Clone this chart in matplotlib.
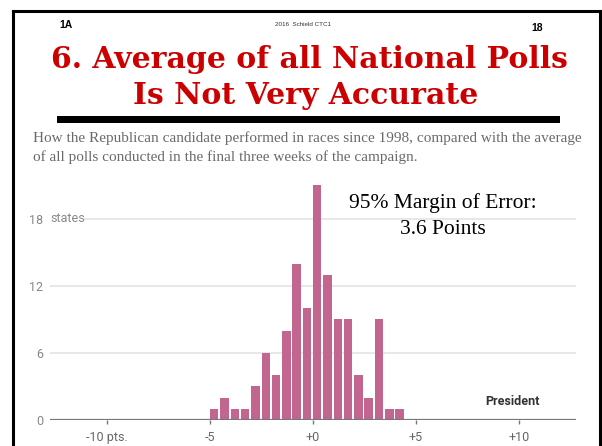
import matplotlib
matplotlib.use("Agg")
import matplotlib.pyplot as plt
from matplotlib.patches import Rectangle
from matplotlib.lines import Line2D

# data (bins are 0.5 pt wide, left edges)
bin_left = [-5.0, -4.5, -4.0, -3.5, -3.0, -2.5, -2.0, -1.5, -1.0, -0.5,
            0.0, 0.5, 1.0, 1.5, 2.0, 2.5, 3.0, 3.5, 4.0]
counts = [1, 2, 1, 1, 3, 6, 4, 8, 14, 10, 21, 13, 9, 9, 4, 2, 9, 1, 1]
xticks = [-10, -5, 0, 5, 10]
xtick_labels = ["-10 pts.", "-5", "+0", "+5", "+10"]
yticks = [0, 6, 12, 18]
ytick_labels = ["0", "6", "12", "18"]

W, H = 602, 446
fig = plt.figure(figsize=(W / 100, H / 100), dpi=100)
fig.patch.set_facecolor("white")

def fx(px):
    return px / W

def fy(py):
    return 1 - py / H

# frame of the slide (left, top, right; bottom cut off)
for xs, ys in [([13, 13], [446, 11]), ([13, 600], [11, 11]), ([600, 600], [11, 446])]:
    fig.add_artist(Line2D([fx(v) for v in xs], [fy(v) for v in ys], color="black", lw=2.2))

# header
fig.text(fx(66), fy(25), "1A", fontsize=7.5, fontweight="bold", ha="center", va="center",
         family="Liberation Sans")
fig.text(fx(303), fy(25), "2016  Schield CTC1", fontsize=4.5, ha="center", va="center",
         family="Liberation Sans", color="#333333")
fig.text(fx(537), fy(28), "18", fontsize=7.5, fontweight="bold", ha="center", va="center",
         family="Liberation Sans")

# title
fig.text(fx(309), fy(68), "6. Average of all National Polls", fontsize=21.5, fontweight="bold",
         family="DejaVu Serif", color="#cc0000", ha="center", va="baseline")
fig.text(fx(306), fy(104), "Is Not Very Accurate", fontsize=21.5, fontweight="bold",
         family="DejaVu Serif", color="#cc0000", ha="center", va="baseline")
fig.add_artist(Rectangle((fx(57), fy(123)), fx(560 - 57), 7 / H, color="black", lw=0))

# subtitle
fig.text(fx(33), fy(138), "How the Republican candidate performed in races since 1998, compared with the average",
         fontsize=11, family="Liberation Serif", color="#6a6a6a", ha="left", va="center")
fig.text(fx(33), fy(157), "of all polls conducted in the final three weeks of the campaign.",
         fontsize=11, family="Liberation Serif", color="#6a6a6a", ha="left", va="center")

# chart axes: x from px 50 to 576, y baseline at px 420
ax = fig.add_axes([fx(50), fy(420), fx(576 - 50), (420 - 175) / H])
ax.set_xlim(-12.77, 12.77)
ax.set_ylim(0, (420 - 175) / 11.17)

for v in yticks[1:]:
    xmin = 0.067 if v == 18 else 0.0
    ax.axhline(v, xmin=xmin, xmax=1, color="#e8e8e8", lw=1.5, zorder=0)

ax.bar(bin_left, counts, width=0.41, align="edge", color="#c2668f", zorder=2)
ax.axhline(0, color="#777777", lw=1.6, zorder=3)

for s in ax.spines.values():
    s.set_visible(False)

ax.set_xticks(xticks)
ax.set_xticklabels(xtick_labels)
ax.tick_params(axis="x", length=3, width=1, color="#777777", pad=5, labelsize=9,
               labelcolor="#666666")
ax.set_yticks(yticks)
ax.set_yticklabels(ytick_labels)
ax.tick_params(axis="y", length=0, pad=5, labelsize=9, labelcolor="#888888")
for lab in ax.get_xticklabels() + ax.get_yticklabels():
    lab.set_family("Roboto")
ax.text(0.0, 18, "states", transform=ax.get_yaxis_transform(), fontsize=9,
        family="Roboto", color="#888888", ha="left", va="center")

ax.text(0.93, 1.7, "President", transform=ax.get_yaxis_transform(), fontsize=9,
        fontweight="bold", family="Roboto", color="#333333", ha="right", va="center")

# annotation
fig.text(fx(443), fy(203), "95% Margin of Error:", fontsize=15.5, family="Liberation Serif",
         ha="center", va="center")
fig.text(fx(443), fy(229), "3.6 Points", fontsize=15.5, family="Liberation Serif",
         ha="center", va="center")

fig.savefig("out.png", dpi=100)
